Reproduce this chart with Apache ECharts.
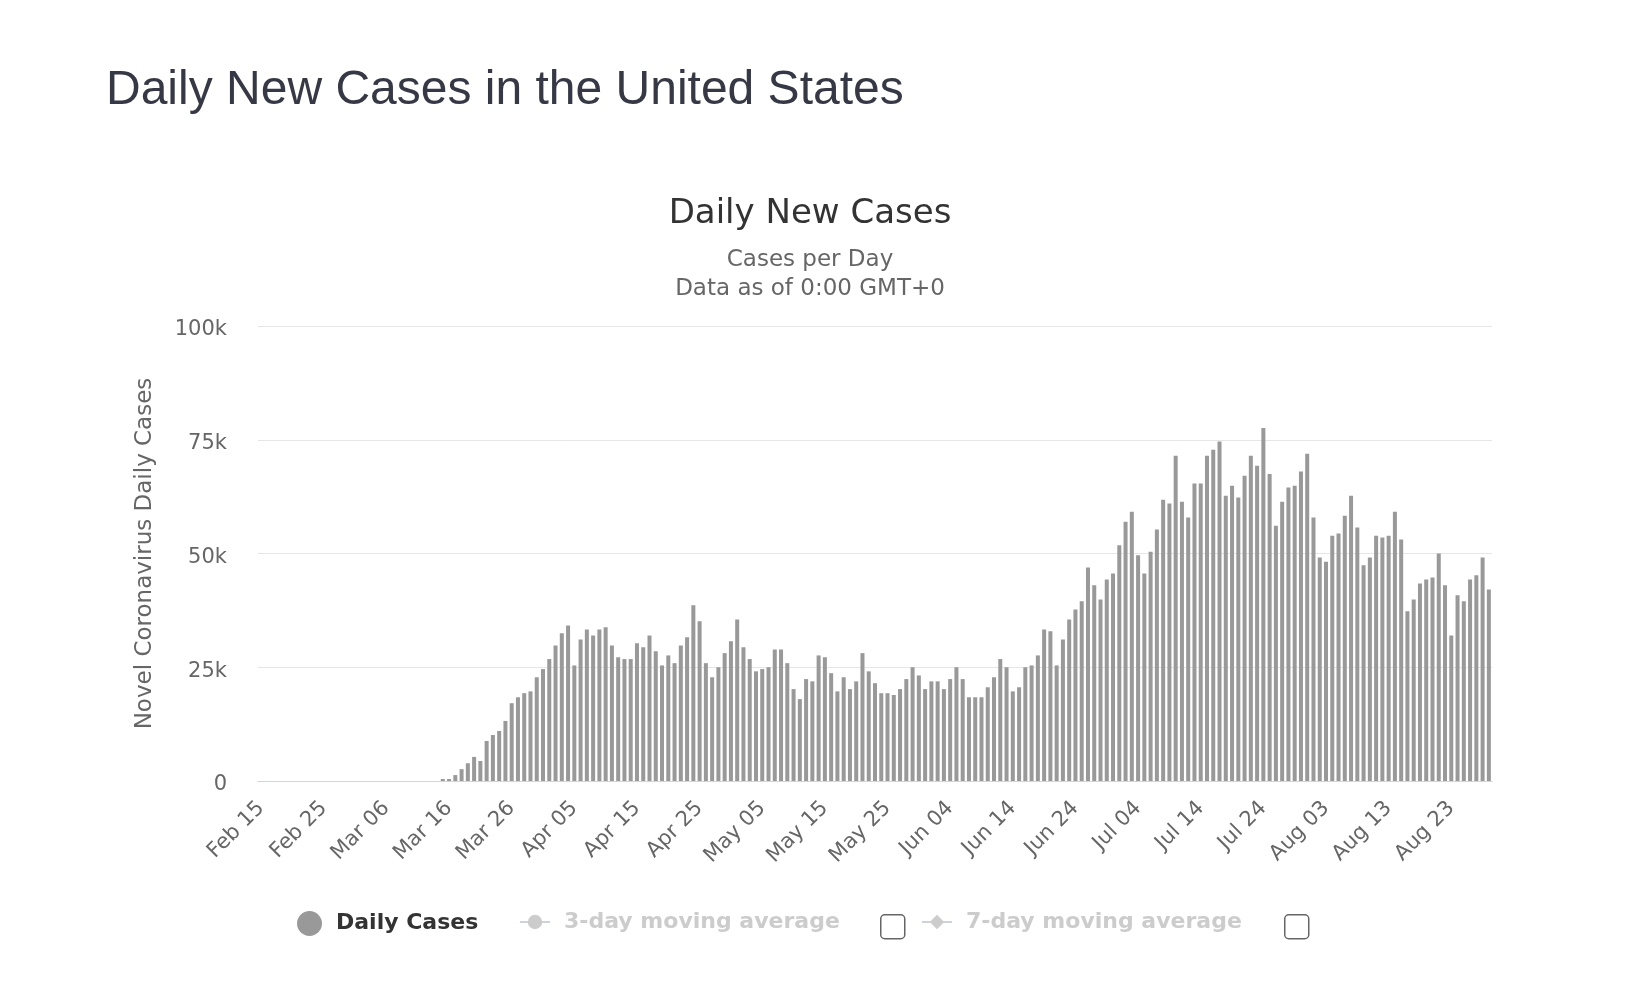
<!DOCTYPE html>
<html>
<head>
<meta charset="utf-8">
<script src="https://cdn.jsdelivr.net/npm/echarts@6/dist/echarts.min.js"></script>
<style>
  html, body { margin: 0; padding: 0; background: #ffffff; }
  #chart { width: 1628px; height: 1000px; }
</style>
</head>
<body>
<div id="chart"></div>
<script>
// ---- Data ----
const pageTitle = 'Daily New Cases in the United States';
const chartTitle = 'Daily New Cases';
const subtitleLines = ['Cases per Day', 'Data as of 0:00 GMT+0'];
const yAxisTitle = 'Novel Coronavirus Daily Cases';
const seriesNames = ['Daily Cases', '3-day moving average', '7-day moving average'];
const yTicks = [0, 25000, 50000, 75000, 100000];

const dates = [
  'Feb 15','Feb 16','Feb 17','Feb 18','Feb 19','Feb 20','Feb 21','Feb 22','Feb 23','Feb 24','Feb 25','Feb 26','Feb 27','Feb 28','Feb 29',
  'Mar 01','Mar 02','Mar 03','Mar 04','Mar 05','Mar 06','Mar 07','Mar 08','Mar 09','Mar 10','Mar 11','Mar 12','Mar 13','Mar 14','Mar 15','Mar 16','Mar 17','Mar 18','Mar 19','Mar 20','Mar 21','Mar 22','Mar 23','Mar 24','Mar 25','Mar 26','Mar 27','Mar 28','Mar 29','Mar 30','Mar 31',
  'Apr 01','Apr 02','Apr 03','Apr 04','Apr 05','Apr 06','Apr 07','Apr 08','Apr 09','Apr 10','Apr 11','Apr 12','Apr 13','Apr 14','Apr 15','Apr 16','Apr 17','Apr 18','Apr 19','Apr 20','Apr 21','Apr 22','Apr 23','Apr 24','Apr 25','Apr 26','Apr 27','Apr 28','Apr 29','Apr 30',
  'May 01','May 02','May 03','May 04','May 05','May 06','May 07','May 08','May 09','May 10','May 11','May 12','May 13','May 14','May 15','May 16','May 17','May 18','May 19','May 20','May 21','May 22','May 23','May 24','May 25','May 26','May 27','May 28','May 29','May 30','May 31',
  'Jun 01','Jun 02','Jun 03','Jun 04','Jun 05','Jun 06','Jun 07','Jun 08','Jun 09','Jun 10','Jun 11','Jun 12','Jun 13','Jun 14','Jun 15','Jun 16','Jun 17','Jun 18','Jun 19','Jun 20','Jun 21','Jun 22','Jun 23','Jun 24','Jun 25','Jun 26','Jun 27','Jun 28','Jun 29','Jun 30',
  'Jul 01','Jul 02','Jul 03','Jul 04','Jul 05','Jul 06','Jul 07','Jul 08','Jul 09','Jul 10','Jul 11','Jul 12','Jul 13','Jul 14','Jul 15','Jul 16','Jul 17','Jul 18','Jul 19','Jul 20','Jul 21','Jul 22','Jul 23','Jul 24','Jul 25','Jul 26','Jul 27','Jul 28','Jul 29','Jul 30','Jul 31',
  'Aug 01','Aug 02','Aug 03','Aug 04','Aug 05','Aug 06','Aug 07','Aug 08','Aug 09','Aug 10','Aug 11','Aug 12','Aug 13','Aug 14','Aug 15','Aug 16','Aug 17','Aug 18','Aug 19','Aug 20','Aug 21','Aug 22','Aug 23','Aug 24','Aug 25','Aug 26','Aug 27','Aug 28','Aug 29'
];

const dailyCases = [
  // Feb 15 - Feb 29
  0,0,0,0,0,0,0,0,0,0,0,0,0,0,0,
  // Mar 01 - Mar 31
  0,0,0,0,0,0,0,0,0,0,0,0,0,0,440,440,1300,2600,3900,5300,4400,8800,10100,11000,13200,17100,18400,19300,19700,22800,24600,
  // Apr 01 - Apr 30
  26800,29800,32500,34200,25400,31100,33300,32000,33300,33800,29800,27200,26800,26800,30300,29400,32000,28500,25400,27600,25900,29800,31600,38600,35100,25900,22800,25000,28100,30700,
  // May 01 - May 31
  35500,29400,26800,24100,24600,25000,28900,28900,25900,20200,18000,22400,21900,27600,27200,23700,19700,22800,20200,21900,28100,24100,21500,19300,19300,18900,20200,22400,25000,23200,20200,
  // Jun 01 - Jun 30
  21900,21900,20200,22400,25000,22400,18400,18400,18400,20600,22800,26800,25000,19700,20600,25000,25400,27600,33300,32900,25400,31100,35500,37700,39500,46900,43000,39900,44300,45600,
  // Jul 01 - Jul 31
  51800,57000,59200,49600,45600,50400,55300,61800,61000,71500,61400,57900,65400,65400,71500,72800,74600,62700,64900,62300,67100,71500,69300,77600,67500,56100,61400,64500,64900,68000,71900,
  // Aug 01 - Aug 29
  57900,49100,48200,53900,54400,58300,62700,55700,47400,49100,53900,53500,53900,59200,53100,37300,39900,43400,44300,44700,50000,43000,32000,40800,39500,44300,45200,49100,42100
];
// Moving-average series are hidden in the reference (legend items switched off)
const movingAvg3 = [];
const movingAvg7 = [];

const chart = echarts.init(document.getElementById('chart'), null, { renderer: 'canvas' });

const legendText = { fontFamily: 'DejaVu Sans', fontWeight: 'bold', fontSize: 22, color: '#333333', padding: [0, 0, 0, 9] };

const option = {
  animation: false,
  backgroundColor: '#ffffff',
  textStyle: { fontFamily: 'DejaVu Sans' },
  title: [
    { text: pageTitle, left: 101, top: 62,
      textStyle: { fontFamily: 'Liberation Sans', fontSize: 48, fontWeight: 'normal', color: '#363945' } },
    { text: chartTitle, left: 805, textAlign: 'center', top: 192,
      textStyle: { fontFamily: 'DejaVu Sans', fontSize: 34, fontWeight: 'normal', color: '#333333' } },
    { text: subtitleLines[0], left: 805, textAlign: 'center', top: 244,
      textStyle: { fontFamily: 'DejaVu Sans', fontSize: 23, fontWeight: 'normal', color: '#666666' } },
    { text: subtitleLines[1], left: 805, textAlign: 'center', top: 273,
      textStyle: { fontFamily: 'DejaVu Sans', fontSize: 23, fontWeight: 'normal', color: '#666666' } }
  ],
  legend: [
    { data: [seriesNames[0]], left: 292, top: 906, padding: 5, icon: 'circle', itemWidth: 25, itemHeight: 25,
      textStyle: legendText, selectedMode: true },
    { data: [seriesNames[1]], left: 514, top: 906, padding: 5, itemWidth: 30, itemHeight: 18,
      inactiveColor: '#cccccc', textStyle: legendText,
      selected: { '3-day moving average': false, '7-day moving average': false } },
    { data: [seriesNames[2]], left: 916, top: 906, padding: 5, itemWidth: 30, itemHeight: 18,
      inactiveColor: '#cccccc', textStyle: legendText,
      selected: { '3-day moving average': false, '7-day moving average': false } }
  ],
  grid: { left: 258, right: 136, top: 326, bottom: 219, containLabel: false },
  xAxis: {
    type: 'category',
    data: dates,
    boundaryGap: true,
    axisLine: { show: true, lineStyle: { color: '#ccd6eb', width: 1 } },
    axisTick: { show: false },
    axisLabel: { interval: 9, rotate: 45, margin: 24, fontSize: 21, color: '#666666', fontFamily: 'DejaVu Sans' },
    splitLine: { show: false }
  },
  yAxis: {
    type: 'value',
    min: yTicks[0],
    max: yTicks[yTicks.length - 1],
    interval: yTicks[1] - yTicks[0],
    name: yAxisTitle,
    nameLocation: 'middle',
    nameGap: 101,
    nameTextStyle: { fontSize: 23, color: '#666666', fontFamily: 'DejaVu Sans' },
    axisLine: { show: false },
    axisTick: { show: false },
    axisLabel: { margin: 31, fontSize: 21, color: '#666666', fontFamily: 'DejaVu Sans',
      verticalAlign: 'top', lineHeight: 8,
      formatter: v => v === 0 ? '0' : (v / 1000) + 'k' },
    splitLine: { show: true, lineStyle: { color: '#e6e6e6', width: 1 } }
  },
  series: [
    { name: seriesNames[0], type: 'bar', data: dailyCases, itemStyle: { color: '#999999' },
      barCategoryGap: '36%' },
    { name: seriesNames[1], type: 'line', data: movingAvg3, symbol: 'circle', symbolSize: 14,
      itemStyle: { color: '#cccccc' }, lineStyle: { width: 4, color: '#cccccc' } },
    { name: seriesNames[2], type: 'line', data: movingAvg7, symbol: 'diamond', symbolSize: 16,
      itemStyle: { color: '#cccccc' }, lineStyle: { width: 4, color: '#cccccc' } }
  ],
  graphic: [
    { type: 'rect', left: 880, top: 914, shape: { width: 24, height: 24, r: 4 },
      style: { fill: '#ffffff', stroke: '#666666', lineWidth: 1.5 } },
    { type: 'rect', left: 1284, top: 914, shape: { width: 24, height: 24, r: 4 },
      style: { fill: '#ffffff', stroke: '#666666', lineWidth: 1.5 } }
  ]
};

chart.setOption(option);
</script>
</body>
</html>
